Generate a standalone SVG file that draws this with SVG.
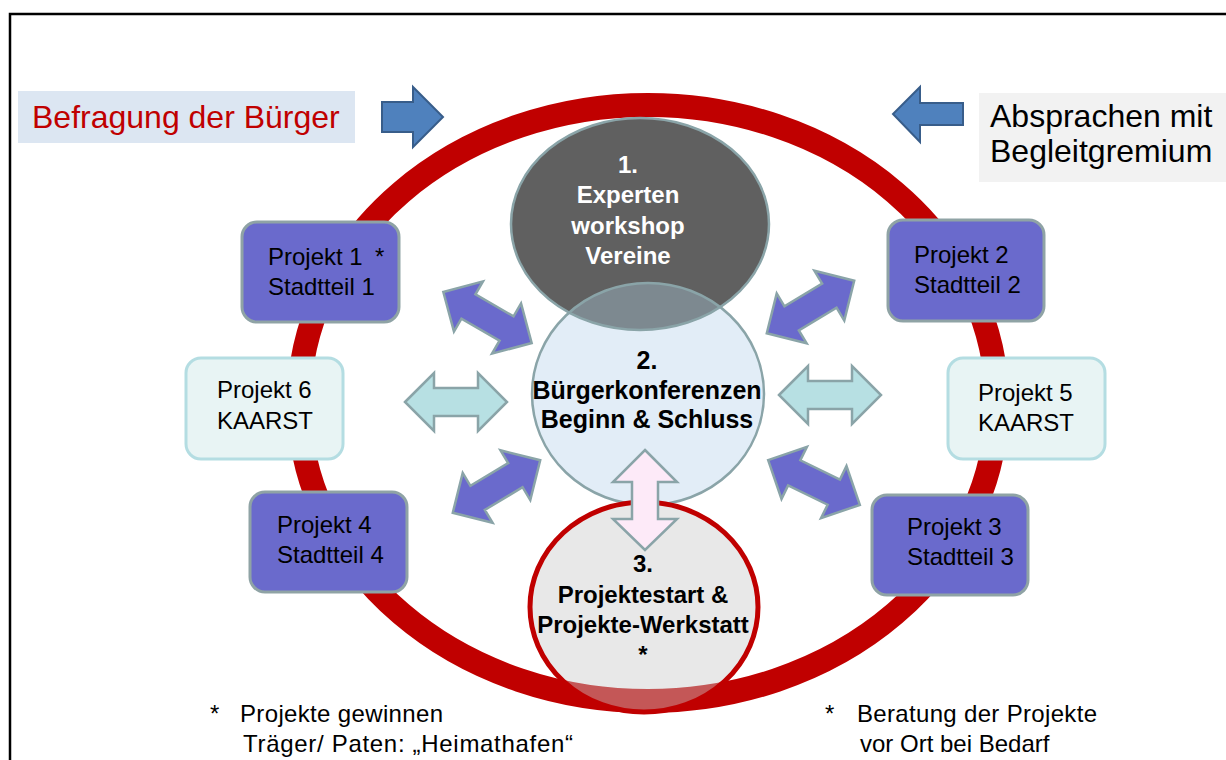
<svg xmlns="http://www.w3.org/2000/svg" width="1226" height="760" viewBox="0 0 1226 760">
<style>
text{font-family:"Liberation Sans",Arial,sans-serif;}
.lbl{font-size:24px;fill:#000;}
.big{font-size:32px;}
.cb{font-weight:bold;text-anchor:middle;}
.pbox{fill:#6a6acc;stroke:#8fa3a5;stroke-width:3;}
.tbox{fill:#e8f4f4;stroke:#b4dde2;stroke-width:3;}
.parr{fill:#6a6acc;stroke:#8aa4a8;stroke-width:2.5;stroke-linejoin:miter;}
.tarr{fill:#b7e0e3;stroke:#8aa4a8;stroke-width:2.5;}
.barr{fill:#4f81bd;stroke:#385d8a;stroke-width:2;}
</style>
<defs>
<path id="dbl" d="M -51 0 L -22 -29 L -22 -14 L 22 -14 L 22 -29 L 51 0 L 22 29 L 22 14 L -22 14 L -22 29 Z"/>
<clipPath id="c2clip"><ellipse cx="648" cy="394" rx="116" ry="111"/></clipPath>
<clipPath id="c3clip"><ellipse cx="644" cy="607" rx="114" ry="105"/></clipPath>
</defs>
<rect width="1226" height="760" fill="#fff"/>
<!-- frame -->
<path d="M 10 760 L 10 14 L 1226 14" fill="none" stroke="#000" stroke-width="2.5"/>
<!-- big ring -->
<g id="ring">
<ellipse cx="648" cy="403" rx="349" ry="298" fill="none" stroke="#c00000" stroke-width="24"/>
</g>
<!-- top labels -->
<g id="befragung">
<rect x="18" y="91" width="337" height="52" fill="#dce6f2"/>
<text x="32" y="128" class="big" fill="#c00000">Befragung der Bürger</text>
</g>
<g id="absprachen">
<rect x="979" y="93" width="250" height="89" fill="#f2f2f2"/>
<text x="990" y="127" class="big" fill="#000">Absprachen mit</text>
<text x="990" y="162" class="big" fill="#000">Begleitgremium</text>
</g>
<!-- circle 1 and 2 -->
<g id="circle1">
<ellipse cx="640" cy="224" rx="129" ry="106" fill="#606060"/>
</g>
<g id="circle2">
<ellipse cx="648" cy="394" rx="116" ry="111" fill="#e2edf7"/>
<ellipse cx="640" cy="224" rx="129" ry="106" fill="#7d8990" clip-path="url(#c2clip)"/>
<ellipse cx="640" cy="224" rx="129" ry="106" fill="none" stroke="#8aa4a8" stroke-width="2.5"/>
<ellipse cx="648" cy="394" rx="116" ry="111" fill="none" stroke="#8aa4a8" stroke-width="2.5"/>
</g>
<!-- circle 3 -->
<g id="circle3">
<ellipse cx="644" cy="607" rx="114" ry="105" fill="#e8e8e8"/>
<ellipse cx="648" cy="403" rx="349" ry="298" fill="none" stroke="#c45757" stroke-width="24" clip-path="url(#c3clip)"/>
<ellipse cx="644" cy="607" rx="114" ry="105" fill="none" stroke="#c00000" stroke-width="5"/>
</g>
<!-- project boxes -->
<g id="projekt1">
<rect x="242" y="222" width="157" height="100" rx="15" class="pbox"/>
<text x="268" y="265" class="lbl">Projekt 1</text>
<text x="375" y="265" class="lbl">*</text>
<text x="268" y="295" class="lbl">Stadtteil 1</text>
</g>
<g id="projekt2">
<rect x="888" y="220" width="156" height="101" rx="15" class="pbox"/>
<text x="914" y="263" class="lbl">Projekt 2</text>
<text x="914" y="293" class="lbl">Stadtteil 2</text>
</g>
<g id="projekt3">
<rect x="872" y="495" width="156" height="100" rx="15" class="pbox"/>
<text x="907" y="535" class="lbl">Projekt 3</text>
<text x="907" y="565" class="lbl">Stadtteil 3</text>
</g>
<g id="projekt4">
<rect x="250" y="492" width="157" height="100" rx="15" class="pbox"/>
<text x="277" y="533" class="lbl">Projekt 4</text>
<text x="277" y="563" class="lbl">Stadtteil 4</text>
</g>
<g id="projekt5">
<rect x="948" y="358" width="157" height="101" rx="15" class="tbox"/>
<text x="978" y="401" class="lbl">Projekt 5</text>
<text x="978" y="431" class="lbl">KAARST</text>
</g>
<g id="projekt6">
<rect x="186" y="358" width="157" height="101" rx="15" class="tbox"/>
<text x="217" y="398" class="lbl">Projekt 6</text>
<text x="217" y="429" class="lbl">KAARST</text>
</g>
<!-- connectors -->
<g id="connectors">
<path class="barr" d="M 382 102 L 413 102 L 413 87 L 443 117 L 413 147 L 413 132 L 382 132 Z"/>
<path class="barr" d="M 963 103 L 920 103 L 920 87 L 893 114 L 920 142 L 920 125 L 963 125 Z"/>
<use href="#dbl" class="parr" transform="translate(487.5 317.5) rotate(30)"/>
<use href="#dbl" class="parr" transform="translate(496.5 486.5) rotate(-31)"/>
<use href="#dbl" class="parr" transform="translate(810.5 307) rotate(-31)"/>
<use href="#dbl" class="parr" transform="translate(814 482.5) rotate(26)"/>
<use href="#dbl" class="tarr" transform="translate(456 402)"/>
<use href="#dbl" class="tarr" transform="translate(830 395)"/>
<path d="M 645 450 L 677 482 L 658 482 L 658 519 L 677 519 L 645 550 L 613 519 L 632 519 L 632 482 L 613 482 Z" fill="#fdeaf8" stroke="#8aa4a8" stroke-width="2.5"/>
</g>
<!-- circle texts -->
<g id="circle1-text" fill="#fff">
<text x="628" y="173" class="lbl cb" fill="#fff" style="fill:#fff">1.</text>
<text x="628" y="203" class="lbl cb" style="fill:#fff">Experten</text>
<text x="628" y="234" class="lbl cb" style="fill:#fff">workshop</text>
<text x="628" y="264" class="lbl cb" style="fill:#fff">Vereine</text>
</g>
<g id="circle2-text">
<text x="647" y="369" class="lbl cb" style="font-size:25px">2.</text>
<text x="647" y="399" class="lbl cb" style="font-size:25px">Bürgerkonferenzen</text>
<text x="647" y="428" class="lbl cb" style="font-size:25px">Beginn &amp; Schluss</text>
</g>
<g id="circle3-text">
<text x="643" y="572" class="lbl cb">3.</text>
<text x="643" y="603" class="lbl cb">Projektestart &amp;</text>
<text x="643" y="633" class="lbl cb">Projekte-Werkstatt</text>
<text x="643" y="663" class="lbl cb">*</text>
</g>
<!-- footnotes -->
<g id="note-left">
<text x="210" y="722" class="lbl">*</text>
<text x="240" y="722" class="lbl" textLength="203" lengthAdjust="spacing">Projekte gewinnen</text>
<text x="243" y="752" class="lbl" textLength="330" lengthAdjust="spacing">Träger/ Paten: „Heimathafen“</text>
</g>
<g id="note-right">
<text x="825" y="722" class="lbl">*</text>
<text x="857" y="722" class="lbl" textLength="240" lengthAdjust="spacing">Beratung der Projekte</text>
<text x="860" y="752" class="lbl">vor Ort bei Bedarf</text>
</g>
</svg>
